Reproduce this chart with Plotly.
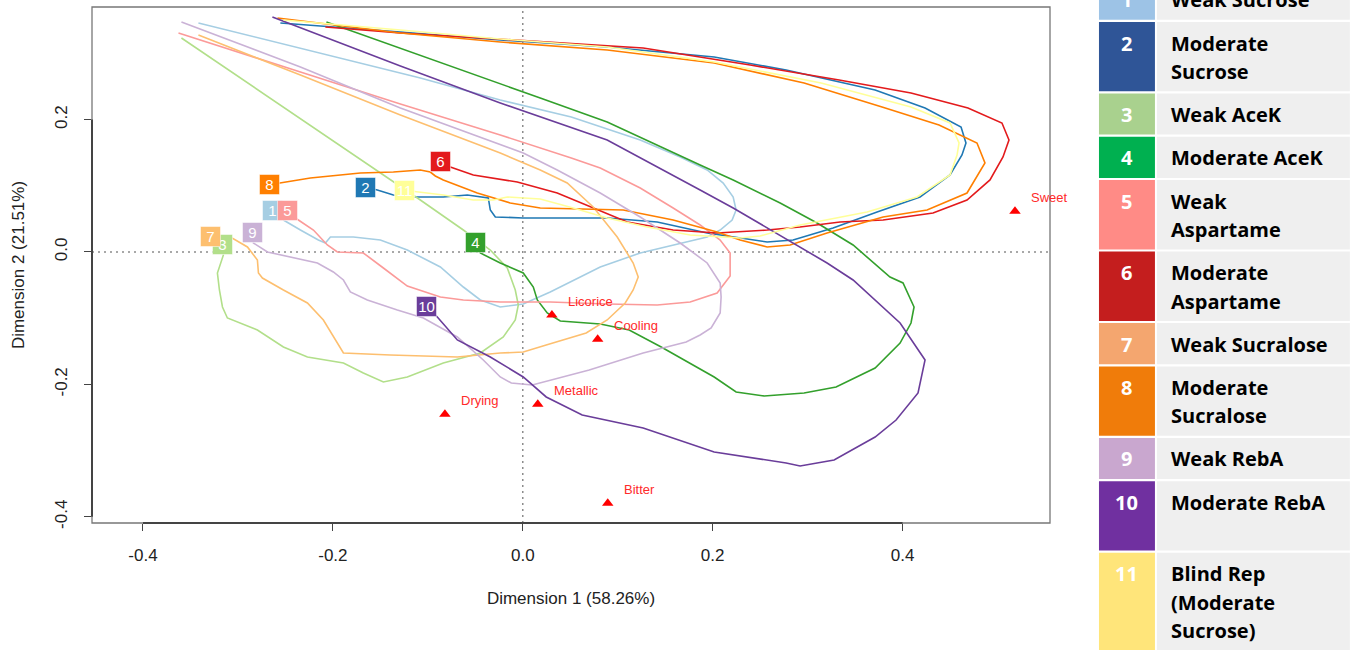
import plotly.graph_objects as go

# ---------------- data (Dimension 1, Dimension 2) ----------------
products = ["1", "2", "3", "4", "5", "6", "7", "8", "9", "10", "11"]
line_colors = ["#a6cee3", "#1f78b4", "#b2df8a", "#33a02c", "#fb9a99", "#e31a1c",
               "#fdbf6f", "#ff7f00", "#cab2d6", "#6a3d9a", "#ffff99"]

label_x = [-0.2634, -0.1655, -0.3166, -0.0500, -0.2477, -0.0865, -0.3289, -0.2671, -0.2842, -0.1011, -0.1247]
label_y = [0.0630, 0.0977, 0.0116, 0.0136, 0.0630, 0.1360, 0.0231, 0.1017, 0.0295, -0.0820, 0.0932]

p1_x = [-0.2634, -0.2521, -0.2342, -0.2153, -0.2079, -0.2026, -0.1784, -0.1500, -0.1216, -0.0868, -0.0626, -0.0447, -0.0237, 0.0005, 0.0289, 0.0816, 0.1237, 0.1658, 0.1942, 0.2079, 0.2205, 0.2247, 0.2216, 0.2111, 0.1942, 0.1658, 0.1237, 0.0511, -0.0237, -0.1079, -0.2342, -0.3416]
p1_y = [0.0630, 0.0483, 0.0332, 0.0181, 0.0136, 0.0227, 0.0227, 0.0181, 0.0030, -0.0227, -0.0529, -0.0725, -0.0831, -0.0785, -0.0604, -0.0227, -0.0015, 0.0136, 0.0227, 0.0332, 0.0483, 0.0634, 0.0831, 0.1042, 0.1239, 0.1435, 0.1692, 0.2039, 0.2296, 0.2628, 0.3082, 0.3459]

p2_x = [-0.1655, -0.1532, -0.1363, -0.1153, -0.0837, -0.0584, -0.0363, -0.0342, -0.0289, 0.0005, 0.0889, 0.1416, 0.1942, 0.2289, 0.2574, 0.2847, 0.3268, 0.3732, 0.4184, 0.4500, 0.4626, 0.4668, 0.4616, 0.4237, 0.3711, 0.2774, 0.2016, 0.0889, -0.0237, -0.1289, -0.2553]
p2_y = [0.0977, 0.0937, 0.0861, 0.0831, 0.0831, 0.0861, 0.0816, 0.0634, 0.0529, 0.0514, 0.0514, 0.0453, 0.0287, 0.0211, 0.0151, 0.0181, 0.0363, 0.0604, 0.0831, 0.1163, 0.1465, 0.1647, 0.1888, 0.2175, 0.2447, 0.2749, 0.2946, 0.3097, 0.3202, 0.3323, 0.3459]

p3_x = [-0.3166, -0.3153, -0.3216, -0.3195, -0.3163, -0.3111, -0.2795, -0.2521, -0.2268, -0.1889, -0.1679, -0.1468, -0.1216, -0.0837, -0.0447, -0.0205, -0.0079, -0.0047, -0.0079, -0.0163, -0.0342, -0.0626, -0.1079, -0.1889, -0.2763, -0.3595]
p3_y = [0.0116, -0.0045, -0.0317, -0.0574, -0.0831, -0.0997, -0.1178, -0.1435, -0.1586, -0.1677, -0.1828, -0.1964, -0.1888, -0.1677, -0.1526, -0.1284, -0.1027, -0.0801, -0.0574, -0.0242, 0.0030, 0.0332, 0.0785, 0.1571, 0.2417, 0.3233]

p4_x = [-0.0500, -0.0447, -0.0237, 0.0005, 0.0111, 0.0153, 0.0258, 0.0395, 0.0816, 0.1121, 0.1458, 0.2016, 0.2247, 0.2542, 0.2963, 0.3300, 0.3711, 0.3974, 0.4089, 0.4121, 0.4005, 0.3868, 0.3479, 0.3100, 0.2711, 0.2216, 0.1868, 0.0889, 0.0184, -0.0974, -0.2068]
p4_y = [0.0136, -0.0015, -0.0166, -0.0317, -0.0529, -0.0725, -0.0921, -0.1042, -0.1088, -0.1178, -0.1435, -0.1888, -0.2115, -0.2175, -0.2130, -0.2039, -0.1752, -0.1375, -0.1073, -0.0831, -0.0468, -0.0378, 0.0106, 0.0438, 0.0740, 0.1088, 0.1314, 0.1964, 0.2326, 0.2915, 0.3474]

p5_x = [-0.2477, -0.2363, -0.2205, -0.2058, -0.1953, -0.1679, -0.1468, -0.1216, -0.0868, -0.0626, -0.0237, 0.0289, 0.0889, 0.1416, 0.1763, 0.2047, 0.2184, 0.2184, 0.2079, 0.1868, 0.1584, 0.1237, 0.0816, 0.0511, -0.0237, -0.1289, -0.2342, -0.3626]
p5_y = [0.0630, 0.0483, 0.0332, 0.0106, 0.0000, -0.0015, -0.0242, -0.0514, -0.0680, -0.0725, -0.0755, -0.0755, -0.0785, -0.0801, -0.0755, -0.0619, -0.0363, -0.0015, 0.0181, 0.0408, 0.0665, 0.0967, 0.1269, 0.1420, 0.1767, 0.2236, 0.2719, 0.3308]

p6_x = [-0.0865, -0.0763, -0.0521, -0.0058, 0.0363, 0.0784, 0.1100, 0.1584, 0.2047, 0.2574, 0.2921, 0.3342, 0.3795, 0.4321, 0.4679, 0.4921, 0.5058, 0.5121, 0.5047, 0.4689, 0.4089, 0.3332, 0.2395, 0.1268, -0.0237, -0.1289, -0.2079]
p6_y = [0.1360, 0.1284, 0.1163, 0.1057, 0.0891, 0.0634, 0.0453, 0.0332, 0.0287, 0.0332, 0.0378, 0.0453, 0.0483, 0.0589, 0.0785, 0.1088, 0.1435, 0.1692, 0.1949, 0.2175, 0.2402, 0.2598, 0.2825, 0.3082, 0.3218, 0.3308, 0.3399]

p7_x = [-0.3289, -0.3079, -0.2900, -0.2795, -0.2784, -0.2742, -0.2521, -0.2268, -0.2100, -0.1995, -0.1889, -0.1395, -0.0689, -0.0237, 0.0005, 0.0247, 0.0668, 0.0889, 0.1079, 0.1163, 0.1216, 0.1163, 0.0995, 0.0742, 0.0468, 0.0184, -0.0237, -0.1289, -0.2342, -0.3416]
p7_y = [0.0231, 0.0227, 0.0076, -0.0121, -0.0317, -0.0393, -0.0574, -0.0770, -0.1027, -0.1284, -0.1526, -0.1556, -0.1586, -0.1526, -0.1511, -0.1405, -0.1224, -0.1027, -0.0770, -0.0574, -0.0378, -0.0166, 0.0227, 0.0680, 0.1042, 0.1239, 0.1495, 0.2069, 0.2674, 0.3278]

p8_x = [-0.2671, -0.2553, -0.2237, -0.1711, -0.1363, -0.1079, -0.0974, -0.0921, -0.0837, -0.0479, -0.0132, 0.0184, 0.1058, 0.1584, 0.2047, 0.2289, 0.2574, 0.2816, 0.3205, 0.3795, 0.4258, 0.4679, 0.4868, 0.4784, 0.4384, 0.3784, 0.2963, 0.2016, 0.0889, -0.0237, -0.1289, -0.2584]
p8_y = [0.1017, 0.1042, 0.1118, 0.1193, 0.1208, 0.1239, 0.1208, 0.1148, 0.1088, 0.0891, 0.0740, 0.0665, 0.0634, 0.0483, 0.0302, 0.0181, 0.0076, 0.0106, 0.0287, 0.0529, 0.0634, 0.0891, 0.1344, 0.1647, 0.1918, 0.2190, 0.2553, 0.2855, 0.3051, 0.3172, 0.3308, 0.3535]

p9_x = [-0.2842, -0.2837, -0.2689, -0.2447, -0.2163, -0.1995, -0.1889, -0.1816, -0.1637, -0.1321, -0.1047, -0.0689, -0.0416, -0.0237, -0.0121, 0.0100, 0.0700, 0.1268, 0.1721, 0.1868, 0.1984, 0.2079, 0.2089, 0.2079, 0.1942, 0.1658, 0.1237, 0.0816, 0.0363, 0.0005, -0.1289, -0.2342, -0.3595]
p9_y = [0.0295, 0.0136, 0.0000, -0.0076, -0.0166, -0.0302, -0.0423, -0.0604, -0.0725, -0.0876, -0.0997, -0.1284, -0.1631, -0.1888, -0.1979, -0.2009, -0.1782, -0.1526, -0.1360, -0.1254, -0.1148, -0.0921, -0.0680, -0.0468, -0.0166, 0.0136, 0.0529, 0.0891, 0.1239, 0.1495, 0.2175, 0.2795, 0.3474]

p10_x = [-0.1011, -0.0900, -0.0689, -0.0342, 0.0005, 0.0247, 0.0626, 0.1268, 0.2016, 0.2774, 0.2921, 0.3279, 0.3711, 0.3932, 0.4163, 0.4237, 0.3974, 0.3479, 0.3205, 0.2847, 0.2574, 0.2216, 0.1868, 0.0889, -0.0237, -0.1289, -0.2637]
p10_y = [-0.0820, -0.0982, -0.1329, -0.1586, -0.1888, -0.2190, -0.2462, -0.2659, -0.3021, -0.3187, -0.3233, -0.3142, -0.2795, -0.2538, -0.2130, -0.1631, -0.1073, -0.0423, -0.0166, 0.0136, 0.0363, 0.0665, 0.0937, 0.1692, 0.2251, 0.2810, 0.3550]

p11_x = [-0.1247, -0.1111, -0.0837, -0.0521, -0.0311, -0.0163, 0.0184, 0.0532, 0.0889, 0.1311, 0.1763, 0.2289, 0.2500, 0.2921, 0.3626, 0.4153, 0.4500, 0.4574, 0.4595, 0.4500, 0.4089, 0.3142, 0.2016, 0.0889, -0.0237, -0.1289, -0.2521]
p11_y = [0.0932, 0.0906, 0.0861, 0.0785, 0.0785, 0.0831, 0.0801, 0.0665, 0.0514, 0.0378, 0.0257, 0.0211, 0.0242, 0.0408, 0.0604, 0.0831, 0.1163, 0.1465, 0.1647, 0.1949, 0.2190, 0.2553, 0.2870, 0.3097, 0.3218, 0.3353, 0.3505]

attr_names = ["Sweet", "Licorice", "Cooling", "Metallic", "Drying", "Bitter"]
attr_x = [0.5184, 0.0307, 0.0789, 0.0158, -0.0820, 0.0895]
attr_y = [0.0615, -0.0952, -0.1319, -0.2301, -0.2452, -0.3796]

x_ticks = [-0.4, -0.2, 0.0, 0.2, 0.4]
x_ticktext = ["-0.4", "-0.2", "0.0", "0.2", "0.4"]
y_ticks = [-0.4, -0.2, 0.0, 0.2]
y_ticktext = ["-0.4", "-0.2", "0.0", "0.2"]
x_title = "Dimension 1 (58.26%)"
y_title = "Dimension 2 (21.51%)"

legend_names = ["Weak Sucrose", "Moderate<br>Sucrose", "Weak AceK", "Moderate AceK",
                "Weak<br>Aspartame", "Moderate<br>Aspartame", "Weak Sucralose",
                "Moderate<br>Sucralose", "Weak RebA", "Moderate RebA",
                "Blind Rep<br>(Moderate<br>Sucrose)"]
legend_colors = ["#9dc3e6", "#2f5597", "#a9d18e", "#00b050", "#ff8b86", "#c41e1e",
                 "#f4a66f", "#f07c0a", "#c9a7cf", "#7030a0", "#ffe57a"]

paths_x = [p1_x, p2_x, p3_x, p4_x, p5_x, p6_x, p7_x, p8_x, p9_x, p10_x, p11_x]
paths_y = [p1_y, p2_y, p3_y, p4_y, p5_y, p6_y, p7_y, p8_y, p9_y, p10_y, p11_y]

# ---------------- layout geometry ----------------
W, H = 1355, 650
ML, MR, MT, MB = 91.5, 305, 7, 127
PW = W - ML - MR
PH = H - MT - MB


def pxx(px):
    return (px - ML) / PW


def pyy(py):
    return (H - MB - py) / PH


FONT = "Liberation Sans, Arial, Helvetica, sans-serif"

fig = go.Figure()
for i in range(len(products)):
    fig.add_trace(go.Scatter(x=paths_x[i], y=paths_y[i], mode="lines",
                             line=dict(color=line_colors[i], width=1.6),
                             hoverinfo="skip", showlegend=False))
fig.add_trace(go.Scatter(x=attr_x, y=attr_y, mode="markers",
                         marker=dict(symbol="triangle-up", size=10, color="#ff0000"),
                         hoverinfo="skip", showlegend=False))

shapes = []
annotations = []

# dotted reference lines
shapes.append(dict(type="line", xref="x", yref="paper", x0=0, x1=0, y0=0, y1=1,
                   line=dict(color="#8c8c8c", width=1.5, dash="2px,4px"), layer="below"))
shapes.append(dict(type="line", xref="paper", yref="y", x0=0, x1=1, y0=0, y1=0,
                   line=dict(color="#8c8c8c", width=1.5, dash="2px,4px"), layer="below"))
# frame and axis lines (R style)
shapes.append(dict(type="rect", xref="paper", yref="paper", x0=0, x1=1, y0=0, y1=1,
                   line=dict(color="#777777", width=1.3), layer="above"))
shapes.append(dict(type="line", xref="x", yref="paper", x0=min(x_ticks), x1=max(x_ticks), y0=0, y1=0,
                   line=dict(color="#444444", width=2), layer="above"))
shapes.append(dict(type="line", xref="paper", yref="y", x0=0, x1=0, y0=min(y_ticks), y1=max(y_ticks),
                   line=dict(color="#444444", width=2), layer="above"))

# product labels
for i, p in enumerate(products):
    annotations.append(dict(x=label_x[i], y=label_y[i], xref="x", yref="y", text=p,
                            showarrow=False, font=dict(family=FONT, size=15, color="white"),
                            bgcolor=line_colors[i], bordercolor="rgba(255,255,255,0.5)",
                            borderwidth=1, borderpad=1, width=17, height=17,
                            align="center", valign="middle"))

# attribute labels
for i, a in enumerate(attr_names):
    annotations.append(dict(x=attr_x[i], y=attr_y[i], xref="x", yref="y", text=a,
                            showarrow=False, xanchor="left", yanchor="middle",
                            xshift=14, yshift=14,
                            font=dict(family=FONT, size=13, color="#ff2a2a")))

# legend table on the right
row_lines = [1, 2, 1, 1, 2, 2, 1, 2, 1, 2, 3]
top = -21.3
LFONT = "Open Sans, Lato, sans-serif"
for i, name in enumerate(legend_names):
    h = 12.9 + 28.2 * row_lines[i]
    shapes.append(dict(type="rect", xref="paper", yref="paper",
                       x0=pxx(1099), x1=pxx(1155), y0=pyy(top + h), y1=pyy(top),
                       fillcolor=legend_colors[i], line=dict(width=0), layer="above"))
    shapes.append(dict(type="rect", xref="paper", yref="paper",
                       x0=pxx(1157), x1=pxx(1350), y0=pyy(top + h), y1=pyy(top),
                       fillcolor="#efefef", line=dict(width=0), layer="above"))
    annotations.append(dict(x=pxx(1127), y=pyy(top + 21), xref="paper", yref="paper",
                            text="<b>" + products[i] + "</b>", showarrow=False,
                            xanchor="center", yanchor="middle",
                            font=dict(family=LFONT, size=20, color="white")))
    for j, ln in enumerate(name.split("<br>")):
        annotations.append(dict(x=pxx(1169), y=pyy(top + 21 + 28.4 * j), xref="paper", yref="paper",
                                text="<b>" + ln + "</b>", showarrow=False,
                                xanchor="left", yanchor="middle",
                                font=dict(family=LFONT, size=20, color="black")))
    top += h + 2.2

fig.update_layout(
    width=W, height=H,
    margin=dict(l=ML, r=MR, t=MT, b=MB, pad=0),
    paper_bgcolor="white", plot_bgcolor="white",
    shapes=shapes, annotations=annotations,
    showlegend=False,
    xaxis=dict(range=[-0.4537, 0.5553], tickvals=x_ticks, ticktext=x_ticktext,
               ticks="outside", ticklen=7, tickwidth=1.3, tickcolor="#444444",
               showgrid=False, zeroline=False, showline=False,
               tickfont=dict(family=FONT, size=17, color="#222222"),
               ticklabelstandoff=10,
               title=dict(text=x_title, font=dict(family=FONT, size=17, color="#222222"), standoff=27)),
    yaxis=dict(range=[-0.4094, 0.3701], tickvals=y_ticks, ticktext=y_ticktext,
               ticks="outside", ticklen=7, tickwidth=1.3, tickcolor="#444444",
               showgrid=False, zeroline=False, showline=False, tickangle=-90,
               tickfont=dict(family=FONT, size=17, color="#222222"),
               ticklabelstandoff=10,
               title=dict(text=y_title, font=dict(family=FONT, size=17, color="#222222"), standoff=23)),
)

fig.write_html("out.html", config={"displayModeBar": False},
               post_script="document.body.style.margin='0px';document.body.style.overflow='hidden';")
